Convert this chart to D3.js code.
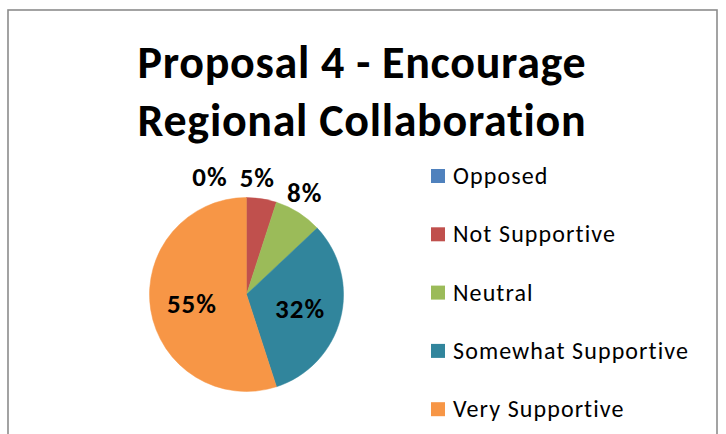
<!DOCTYPE html>
<html>
<head>
<meta charset="utf-8">
<script src="https://cdn.jsdelivr.net/npm/d3@7"></script>
<style>
body { margin: 0; background: #fff; }
svg { display: block; font-family: Carlito, Calibri, Lato, sans-serif; }
</style>
</head>
<body>
<svg width="726" height="434"></svg>
<script>
var categories = ["Opposed", "Not Supportive", "Neutral", "Somewhat Supportive", "Very Supportive"];
var values = [0, 5, 8, 32, 55];
var colors = ["#4F81BD", "#C0504D", "#9BBB59", "#31859C", "#F79646"];
var titleLines = ["Proposal 4 - Encourage", "Regional Collaboration"];

var svg = d3.select("svg"),
	width = +svg.attr("width"),
	height = +svg.attr("height");

// chart area border (runs off the bottom of the picture)
svg.append("rect")
	.attr("x", 8)
	.attr("y", 10)
	.attr("width", 709)
	.attr("height", 460)
	.attr("fill", "none")
	.attr("stroke", "#8c8c8c")
	.attr("stroke-width", 1.6);

svg.append("g")
	.attr("font-weight", "bold")
	.attr("font-size", 46)
	.attr("letter-spacing", 0.7)
	.attr("text-anchor", "middle")
	.selectAll("text")
	.data(titleLines)
	.enter().append("text")
	.attr("x", 362)
	.attr("y", function (d, i) { return 78 + i * 58; })
	.text(function (d) { return d; });

var cx = 246.5, cy = 294.5, r = 97;
var total = d3.sum(values);

var color = d3.scaleOrdinal().domain(categories).range(colors);

var pie = d3.pie().sort(null).value(function (d) { return d.value; });
var data = pie(categories.map(function (c, i) { return { name: c, value: values[i] }; }));

var arc = d3.arc().innerRadius(0).outerRadius(r);

var g = svg.append("g").attr("transform", "translate(" + cx + "," + cy + ")");

g.selectAll("path")
	.data(data)
	.enter().append("path")
	.attr("d", arc)
	.attr("fill", function (d) { return color(d.data.name); })
	.attr("stroke", function (d) { return color(d.data.name); })
	.attr("stroke-width", 0.5);

// labels: big slices inside, small ones just outside the rim
var fmt = function (d) { return Math.round(d.data.value / total * 100) + "%"; };
var labels = g.append("g")
	.attr("font-weight", "bold")
	.attr("font-size", 27)
	.attr("letter-spacing", 1)
	.attr("text-anchor", "middle")
	.selectAll("text")
	.data(data)
	.enter().append("text")
	.text(fmt);

var outside = [];
labels.each(function (d) {
	var t = d3.select(this),
		a = (d.startAngle + d.endAngle) / 2,
		w = this.getComputedTextLength();
	if (d.data.value / total >= 0.2) {
		var p = [Math.sin(a) * r * 0.57, -Math.cos(a) * r * 0.57];
		t.attr("x", p[0]).attr("y", p[1]).attr("dy", "0.35em");
	} else {
		var ro = r + 6;
		outside.push({ node: t, x: Math.sin(a) * ro, y: -Math.cos(a) * ro, w: w });
	}
});

// push overlapping outside labels to the left
for (var i = outside.length - 2; i >= 0; i--) {
	var cur = outside[i], nxt = outside[i + 1];
	var limit = nxt.x - nxt.w / 2 - 12;
	if (cur.x + cur.w / 2 > limit && Math.abs(cur.y - nxt.y) < 24) cur.x = limit - cur.w / 2;
}
outside.forEach(function (o) {
	o.node.attr("x", o.x + 3).attr("y", o.y - 6);
});

var legend = svg.append("g")
	.attr("font-size", 24)
	.attr("letter-spacing", 1.1)
	.selectAll("g")
	.data(categories)
	.enter().append("g")
	.attr("transform", function (d, i) { return "translate(431," + (184 + i * 58.3) + ")"; });

legend.append("rect")
	.attr("y", -15)
	.attr("width", 14)
	.attr("height", 14)
	.attr("fill", color);

legend.append("text")
	.attr("x", 22)
	.attr("fill", "#000")
	.text(function (d) { return d; });
</script>
</body>
</html>
